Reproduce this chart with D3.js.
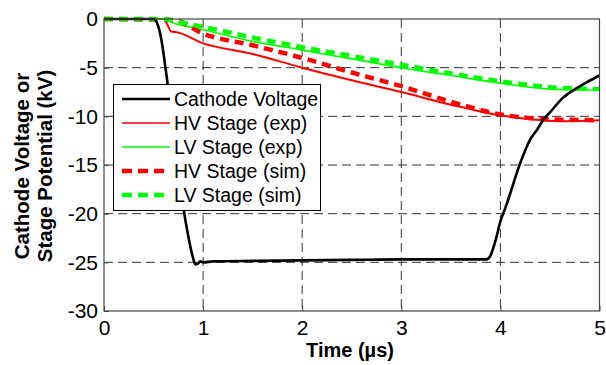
<!DOCTYPE html>
<html>
<head>
<meta charset="utf-8">
<script src="https://cdn.jsdelivr.net/npm/d3@7"></script>
<style>
  body { margin: 0; background: #fff; }
  svg { display: block; font-family: "Liberation Sans", Arial, sans-serif; }
</style>
</head>
<body>
<svg id="chart"></svg>
<script>
// data (time in us, voltage in kV)
let cathodeT = [0, 0.50, 0.53, 0.56, 0.59, 0.62, 0.66, 0.70, 0.75, 0.80, 0.85, 0.90, 0.92, 0.95, 0.97, 1.0, 1.1, 1.5, 2.0, 2.5, 3.0, 3.5, 3.86, 3.9, 3.95, 4.0, 4.05, 4.1, 4.15, 4.2, 4.25, 4.3, 4.375, 4.43, 4.5, 4.63, 4.77, 4.87, 5.0]
let cathodeV = [0, 0, -0.3, -1.2, -2.8, -5.0, -8.0, -11.3, -15.3, -19.3, -22.3, -24.6, -25.2, -25.1, -24.9, -25.0, -24.9, -24.85, -24.8, -24.75, -24.7, -24.7, -24.7, -24.3, -22.8, -20.8, -19.4, -17.9, -16.3, -14.8, -13.5, -12.4, -11.3, -10.4, -9.6, -8.1, -7.1, -6.5, -5.8]

let hvExpT = [0, 0.61, 0.64, 0.68, 0.7, 1.0, 1.5, 2.0, 2.5, 3.0, 3.5, 4.0, 4.3, 4.6, 5.0]
let hvExpV = [0, 0, -0.6, -1.3, -1.3, -2.5, -3.6, -5.0, -6.3, -7.5, -8.8, -9.9, -10.3, -10.5, -10.4]

let lvExpT = [0, 0.6, 0.7, 1.0, 1.5, 2.0, 2.5, 3.0, 3.5, 4.0, 4.5, 5.0]
let lvExpV = [0, 0, -0.4, -1.1, -2.3, -3.2, -4.1, -5.0, -5.8, -6.6, -7.2, -7.3]

let hvSimT = [0, 0.7, 1.0, 1.5, 2.0, 2.5, 3.0, 3.5, 4.0, 4.5, 5.0]
let hvSimV = [0, -0.1, -1.5, -2.7, -4.0, -5.5, -6.9, -8.5, -9.8, -10.3, -10.4]

let lvSimT = [0, 0.6, 0.7, 1.0, 1.5, 2.0, 2.5, 3.0, 3.5, 4.0, 4.5, 5.0]
let lvSimV = [0, 0, -0.2, -0.8, -1.9, -2.9, -3.8, -4.7, -5.6, -6.4, -7.0, -7.2]

let xTicks = [0, 1, 2, 3, 4, 5]
let yTicks = [0, -5, -10, -15, -20, -25, -30]

let legendNames = ['Cathode Voltage', 'HV Stage (exp)', 'LV Stage (exp)', 'HV Stage (sim)', 'LV Stage (sim)']

let width = 606
let height = 365
let padLeft = 104, padRight = 599.5, padTop = 19, padBottom = 311

let svg = d3.select('#chart').attr('width', width).attr('height', height)

let xScale = d3.scaleLinear().domain([0, 5]).range([padLeft, padRight])
let yScale = d3.scaleLinear().domain([-30, 0]).range([padBottom, padTop])

// grid
let grid = svg.append('g').attr('stroke', '#333').attr('stroke-width', 1).attr('stroke-dasharray', '9,5')
grid.selectAll('.gx').data(xTicks.slice(1, -1)).enter().append('line')
    .attr('x1', d => xScale(d)).attr('x2', d => xScale(d))
    .attr('y1', padTop).attr('y2', padBottom)
grid.selectAll('.gy').data(yTicks.slice(1, -1)).enter().append('line')
    .attr('y1', d => yScale(d)).attr('y2', d => yScale(d))
    .attr('x1', padLeft).attr('x2', padRight)

// series
let series = [
    { t: cathodeT, v: cathodeV, color: '#000000', w: 2.6, dash: null },
    { t: hvExpT, v: hvExpV, color: '#ff0000', w: 2, dash: null },
    { t: lvExpT, v: lvExpV, color: '#00ff00', w: 1.6, dash: null },
    { t: hvSimT, v: hvSimV, color: '#ff0000', w: 4.5, dash: '9,6' },
    { t: lvSimT, v: lvSimV, color: '#00ff00', w: 4.5, dash: '9,6' }
]

let line = d3.line().curve(d3.curveMonotoneX).x(d => xScale(d[0])).y(d => yScale(d[1]))

let drawOrder = [1, 2, 3, 4, 0]
drawOrder.forEach(i => {
    let s = series[i]
    svg.append('path')
       .datum(d3.zip(s.t, s.v))
       .attr('d', line)
       .attr('fill', 'none')
       .attr('stroke', s.color)
       .attr('stroke-width', s.w)
       .attr('stroke-dasharray', s.dash)
       .attr('stroke-linejoin', 'round')
})

// axes box
svg.append('rect')
   .attr('x', padLeft).attr('y', padTop)
   .attr('width', padRight - padLeft).attr('height', padBottom - padTop)
   .attr('fill', 'none').attr('stroke', '#444').attr('stroke-width', 1.2)

let xAxis = d3.axisBottom(xScale).tickValues(xTicks).tickSize(-5).tickPadding(9).tickFormat(d3.format('d'))
let yAxis = d3.axisLeft(yScale).tickValues(yTicks).tickSize(-5).tickPadding(6).tickFormat(d3.format('d'))

let gx = svg.append('g').attr('transform', 'translate(0,' + padBottom + ')').call(xAxis)
let gy = svg.append('g').attr('transform', 'translate(' + padLeft + ',0)').call(yAxis)
gx.select('.domain').remove()
gy.select('.domain').remove()
svg.selectAll('.tick line').attr('stroke', '#444')
gx.selectAll('text').attr('font-size', 21).attr('font-family', '"Liberation Sans", Arial').attr('fill', '#000')
gy.selectAll('text').attr('font-size', 21).attr('font-family', '"Liberation Sans", Arial').attr('fill', '#000')
gy.selectAll('text').text(d => d === 0 ? '0' : '-' + Math.abs(d))

// axis titles
svg.append('text')
   .attr('x', 350).attr('y', 357)
   .attr('text-anchor', 'middle')
   .attr('font-size', 20).attr('font-weight', 'bold')
   .text('Time (\u00b5s)')

let ycenter = 166
svg.append('text')
   .attr('transform', 'translate(29,' + ycenter + ') rotate(-90)')
   .attr('text-anchor', 'middle')
   .attr('font-size', 20.5).attr('font-weight', 'bold')
   .text('Cathode Voltage or')
svg.append('text')
   .attr('transform', 'translate(52,' + ycenter + ') rotate(-90)')
   .attr('text-anchor', 'middle')
   .attr('font-size', 20.5).attr('font-weight', 'bold')
   .text('Stage Potential (kV)')

// legend
let legend = svg.append('g')
legend.append('rect')
      .attr('x', 113.5).attr('y', 84.5).attr('width', 207).attr('height', 126)
      .attr('fill', '#fff').attr('stroke', '#000').attr('stroke-width', 1)

let rowScale = d3.scalePoint().domain(legendNames).range([99, 195]).round(true)

legendNames.forEach((name, i) => {
    let s = series[i]
    let y = rowScale(name)
    legend.append('line')
          .attr('x1', 122).attr('x2', 170).attr('y1', y).attr('y2', y)
          .attr('stroke', s.color)
          .attr('stroke-width', i === 0 ? 2.6 : (s.dash ? 4.5 : 1.5))
          .attr('stroke-dasharray', s.dash ? '10,6' : null)
    legend.append('text')
          .attr('x', 174).attr('y', y + 7)
          .attr('font-size', 19.5).attr('fill', '#000')
          .text(name)
})
</script>
</body>
</html>
